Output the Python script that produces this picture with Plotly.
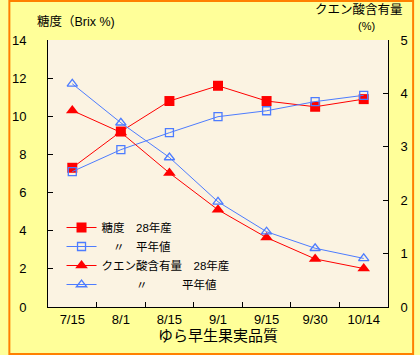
import plotly.graph_objects as go

categories = ["7/15", "8/1", "8/15", "9/1", "9/15", "9/30", "10/14"]
sugar_2016 = [7.3, 9.2, 10.8, 11.6, 10.8, 10.5, 10.9]
sugar_avg = [7.1, 8.25, 9.14, 9.98, 10.29, 10.77, 11.1]
acid_2016 = [3.68, 3.27, 2.51, 1.82, 1.30, 0.90, 0.72]
acid_avg = [4.18, 3.45, 2.80, 1.97, 1.41, 1.10, 0.91]

names = ["糖度　28年産", "　〃　平年値", "クエン酸含有量　28年産", "　　　〃　　　平年値"]

RED = "#FF0000"
BLUE = "#4D7CFF"
FONT = "Liberation Sans, Noto Sans CJK JP, sans-serif"

fig = go.Figure()
fig.add_trace(go.Scatter(x=categories, y=sugar_2016, name=names[0], mode="lines+markers",
                         line=dict(color=RED, width=1),
                         marker=dict(symbol="square", size=10, color=RED)))
fig.add_trace(go.Scatter(x=categories, y=sugar_avg, name=names[1], mode="lines+markers",
                         line=dict(color=BLUE, width=1),
                         marker=dict(symbol="square-open", size=8, color=BLUE, line=dict(width=1.3))))
fig.add_trace(go.Scatter(x=categories, y=acid_2016, name=names[2], mode="lines+markers", yaxis="y2",
                         line=dict(color=RED, width=1),
                         marker=dict(symbol="triangle-up", size=11, color=RED)))
fig.add_trace(go.Scatter(x=categories, y=acid_avg, name=names[3], mode="lines+markers", yaxis="y2",
                         line=dict(color=BLUE, width=1),
                         marker=dict(symbol="triangle-up-open", size=9, color=BLUE, line=dict(width=1.3))))

W, H = 420, 355
ml, mr, mt, mb = 41, 27, 40, 48
pw, ph = W - ml - mr, H - mt - mb

fig.update_layout(
    width=W, height=H,
    margin=dict(l=ml, r=mr, t=mt, b=mb, pad=0),
    paper_bgcolor="#FFFF99",
    plot_bgcolor="#FBF3E2",
    font=dict(family=FONT, size=13, color="#000000"),
    showlegend=True,
    legend=dict(x=(55 - ml) / pw, y=(307 - 213) / ph, xanchor="left", yanchor="top",
                bgcolor="rgba(0,0,0,0)", font=dict(size=11.5), tracegroupgap=0,
                itemwidth=30),
    xaxis=dict(type="category", range=[-0.5, 6.5], showline=True, linecolor="#000", linewidth=1,
               ticks="inside", ticklen=5, tickcolor="#000", tickson="boundaries",
               showgrid=False, zeroline=False,
               title=dict(text="ゆら早生果実品質", font=dict(size=15), standoff=1)),
    yaxis=dict(range=[0, 14], dtick=2, showline=True, linecolor="#000", linewidth=1,
               ticks="inside", ticklen=5, tickcolor="#000", showgrid=False, zeroline=False,
               ticklabelstandoff=18),
    yaxis2=dict(range=[0, 5], dtick=1, overlaying="y", side="right", showline=True,
                linecolor="#000", linewidth=1, ticks="inside", ticklen=5, tickcolor="#000",
                showgrid=False, zeroline=False, ticklabelstandoff=9),
    shapes=[dict(type="rect", xref="paper", yref="paper",
                 x0=-(ml - 1) / pw, x1=1 + (mr - 1) / pw,
                 y0=-(mb - 1) / ph, y1=1 + (mt - 1) / ph,
                 line=dict(color="#FF8000", width=2), fillcolor="rgba(0,0,0,0)", layer="above")],
    annotations=[
        dict(text="糖度（Brix %)", xref="paper", yref="paper", x=-(ml - 28) / pw, y=1 + (mt - 21) / ph,
             xanchor="left", yanchor="middle", showarrow=False, font=dict(size=12.5)),
        dict(text="クエン酸含有量", xref="paper", yref="paper", x=1 + (mr - 9) / pw, y=1 + (mt - 10) / ph,
             xanchor="right", yanchor="middle", showarrow=False, font=dict(size=12.5)),
        dict(text="(%)", xref="paper", yref="paper", x=1 + (371 - 41 - pw) / pw, y=1 + (mt - 26) / ph,
             xanchor="center", yanchor="middle", showarrow=False, font=dict(size=11)),
    ],
)

fig.write_html("out.html")
